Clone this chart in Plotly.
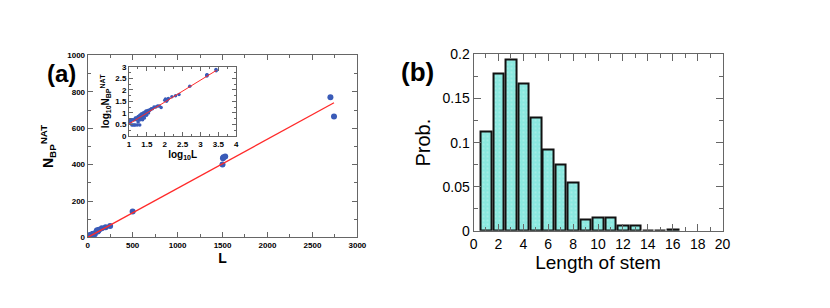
import numpy as np
import plotly.graph_objects as go

# ---------- data: panel (a) ----------
L_vals = [10, 10, 11, 11, 12, 12, 13, 13, 14, 14, 15, 15, 16, 16, 17, 17, 18, 18, 19, 19,
          20, 20, 20, 21, 21, 22, 22, 23, 23, 24, 24, 25, 25, 26, 26, 27, 27, 28, 28, 29,
          30, 30, 31, 31, 32, 32, 33, 34, 35, 35, 36, 38, 40, 42, 45,
          50, 56, 63, 70, 79, 100, 105, 112, 120, 126, 158, 200, 250,
          500, 1500, 1505, 1510, 1530, 2700, 2740]
N_vals = [4, 5, 5, 4, 5, 3, 3, 5, 3, 5, 3, 6, 5, 6, 3, 6, 4, 7, 5, 7,
          3, 6, 8, 5, 8, 6, 9, 7, 9, 5, 8, 7, 10, 8, 10, 6, 9, 8, 11, 9,
          10, 12, 8, 11, 10, 12, 11, 12, 10, 13, 12, 13, 14, 15, 15,
          18, 18, 20, 20, 17, 35, 40, 32, 38, 42, 50, 56, 63,
          143, 400, 435, 440, 445, 770, 665]
fit_L = [0, 2740]
fit_N = [0, 740]
fit_logL = [1.0, 3.45]
fit_logN = [0.52, 2.85]

# ---------- data: panel (b) ----------
stem_len = list(range(1, 17))
stem_prob = [0.113, 0.179, 0.194, 0.167, 0.129, 0.092, 0.075, 0.055,
             0.013, 0.015, 0.015, 0.0065, 0.0065, 0.0, 0.0, 0.002]

a_xticks = [0, 500, 1000, 1500, 2000, 2500, 3000]
a_yticks = [0, 200, 400, 600, 800, 1000]
in_xticks = [1, 1.5, 2, 2.5, 3, 3.5, 4]
in_yticks = [0, 0.5, 1, 1.5, 2, 2.5, 3]
b_xticks = [0, 2, 4, 6, 8, 10, 12, 14, 16, 18, 20]
b_yticks = [0, 0.05, 0.1, 0.15, 0.2]
b_yticktext = ["0", "0.05", "0.1", "0.15", "0.2"]

logL = np.log10(L_vals)
logN = np.log10(N_vals)

W, H = 830, 308
def dx(a, b):
    return [a / W, b / W]
def dy(top, bottom):
    return [1 - bottom / H, 1 - top / H]

BLUE = "#3a5bb8"
RED = "#ff2a2a"
FONT = "Liberation Sans, Arial, sans-serif"
FRAME = "#666666"

fig = go.Figure()

# main scatter (a)
fig.add_trace(go.Scatter(x=L_vals, y=N_vals, mode="markers",
                         marker=dict(color=BLUE, size=6),
                         xaxis="x", yaxis="y", showlegend=False))
fig.add_trace(go.Scatter(x=fit_L, y=fit_N, mode="lines",
                         line=dict(color=RED, width=1.3),
                         xaxis="x", yaxis="y", showlegend=False))
# inset
fig.add_trace(go.Scatter(x=logL, y=logN, mode="markers",
                         marker=dict(color=BLUE, size=3.5),
                         xaxis="x2", yaxis="y2", showlegend=False))
fig.add_trace(go.Scatter(x=fit_logL, y=fit_logN, mode="lines",
                         line=dict(color=RED, width=1),
                         xaxis="x2", yaxis="y2", showlegend=False))
# bars (b)
fig.add_trace(go.Bar(x=stem_len, y=stem_prob, width=0.85,
                     marker=dict(color="#8ae8df",
                                 line=dict(color="#111111", width=2),
                                 pattern=dict(shape=".", fgcolor="white",
                                              bgcolor="#8ae8df", size=4, solidity=0.12)),
                     xaxis="x3", yaxis="y3", showlegend=False))

def ax(**kw):
    base = dict(showgrid=False, zeroline=False, showline=True, linecolor=FRAME,
                linewidth=1, mirror="allticks", ticks="inside", tickcolor=FRAME)
    base.update(kw)
    return base

small_bold = dict(family=FONT, size=8, color="black", weight="bold")
tiny_bold = dict(family=FONT, size=8, color="black", weight="bold")
b_font = dict(family=FONT, size=14, color="black")

fig.update_layout(
    width=W, height=H, margin=dict(l=0, r=0, t=0, b=0),
    paper_bgcolor="white", plot_bgcolor="white",
    font=dict(family=FONT),
    bargap=0,
    xaxis=ax(domain=dx(85, 359), anchor="y", range=[0, 3000],
             tickvals=a_xticks, ticklen=5, tickfont=small_bold,
             minor=dict(ticks="inside", dtick=250, ticklen=3, tickcolor=FRAME),
             title=dict(text="L", font=dict(family=FONT, size=14, color="black", weight="bold"),
                        standoff=2)),
    yaxis=ax(domain=dy(50, 242), anchor="x", range=[0, 1000],
             tickvals=a_yticks, ticklen=5, tickfont=small_bold,
             minor=dict(ticks="inside", dtick=100, ticklen=3, tickcolor=FRAME),
             title=dict(text="N<sub>BP</sub><sup>NAT</sup>",
                        font=dict(family=FONT, size=14, color="black", weight="bold"),
                        standoff=10)),
    xaxis2=ax(domain=dx(127, 236), anchor="y2", range=[1, 4],
              tickvals=in_xticks, ticklen=4, tickfont=tiny_bold,
              minor=dict(ticks="inside", dtick=0.25, ticklen=2, tickcolor=FRAME),
              title=dict(text="log<sub>10</sub>L", font=dict(family=FONT, size=10, color="black", weight="bold"),
                         standoff=2)),
    yaxis2=ax(domain=dy(62, 135), anchor="x2", range=[0, 3],
              tickvals=in_yticks, ticklen=4, tickfont=tiny_bold,
              minor=dict(ticks="inside", dtick=0.25, ticklen=2, tickcolor=FRAME),
              title=dict(text="log<sub>10</sub>N<sub>BP</sub><sup>NAT</sup>",
                         font=dict(family=FONT, size=10, color="black", weight="bold"),
                         standoff=3)),
    xaxis3=ax(domain=dx(477, 730), anchor="y3", range=[0, 20],
              tickvals=b_xticks, ticklen=7, tickfont=b_font,
              minor=dict(ticks="inside", dtick=1, ticklen=4, tickcolor=FRAME),
              title=dict(text="Length of stem", font=dict(family=FONT, size=19, color="black"),
                         standoff=2)),
    yaxis3=ax(domain=dy(49, 235), anchor="x3", range=[0, 0.2],
              tickvals=b_yticks, ticktext=b_yticktext, ticklen=7, tickfont=b_font,
              minor=dict(ticks="inside", dtick=0.025, ticklen=4, tickcolor=FRAME),
              title=dict(text="Prob.", font=dict(family=FONT, size=20, color="black"),
                         standoff=6)),
    annotations=[
        dict(text="(a)", x=42 / W, y=1 - 53 / H, xref="paper", yref="paper",
             showarrow=False, font=dict(family=FONT, size=24, color="black", weight="bold")),
        dict(text="(b)", x=420 / W, y=1 - 50 / H, xref="paper", yref="paper",
             showarrow=False, font=dict(family=FONT, size=26, color="black", weight="bold")),
    ],
)

fig.write_html("out.html", config={"displayModeBar": False},
               post_script="document.body.style.margin='0';document.body.style.overflow='hidden';")
